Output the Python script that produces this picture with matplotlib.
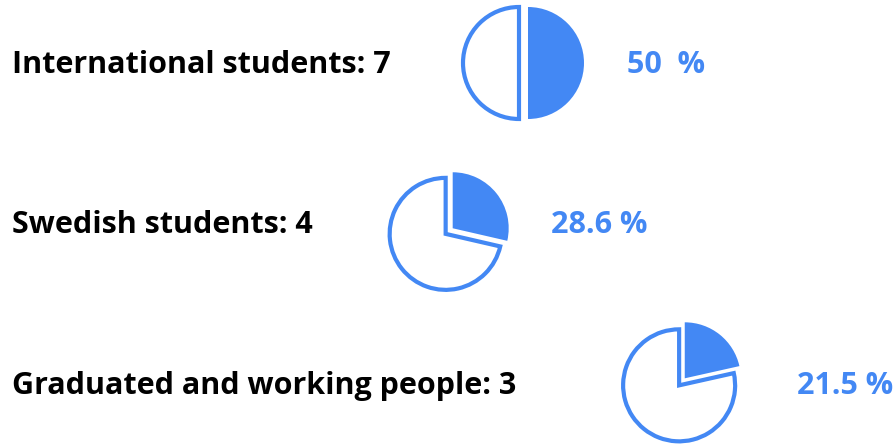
import matplotlib
matplotlib.use("Agg")
import matplotlib.pyplot as plt

# data
groups = ["International students", "Swedish students", "Graduated and working people"]
counts = [7, 4, 3]
shares = [50, 28.6, 21.5]
share_labels = ["50  %", "28.6 %", "21.5 %"]

blue = "#4388F4"
W, H = 894, 444

fig = plt.figure(figsize=(W / 100, H / 100), dpi=100)
ax = fig.add_axes([0, 0, 1, 1])
ax.set_xlim(0, W)
ax.set_ylim(0, H)
ax.set_aspect("equal")
ax.axis("off")

# layout in pixels (y from top)
base_y = [73, 233, 394]
pie_xy = [(522, 63), (448, 232), (681, 383)]
pct_x = [627, 551, 797]
radius = 56

for i in range(3):
    ax.text(12, H - base_y[i], f"{groups[i]}: {counts[i]}",
            fontsize=22, fontweight="bold", family="Open Sans",
            ha="left", va="baseline", color="black")

    cx, cy = pie_xy[i]
    # explode is in data units (pixels here)
    wedges, _ = ax.pie([shares[i], 100 - shares[i]], center=(cx, H - cy),
                       radius=radius, startangle=90, counterclock=False,
                       explode=[6, 3], frame=True)
    wedges[0].set_facecolor(blue)
    wedges[0].set_edgecolor("none")
    wedges[1].set_facecolor("white")
    wedges[1].set_edgecolor(blue)
    wedges[1].set_linewidth(3)
    wedges[1].set_joinstyle("miter")

    ax.text(pct_x[i], H - base_y[i], share_labels[i],
            fontsize=22, fontweight="bold", family="Open Sans",
            ha="left", va="baseline", color=blue)

ax.set_xlim(0, W)
ax.set_ylim(0, H)
ax.axis("off")

fig.savefig("out.png", dpi=100)
